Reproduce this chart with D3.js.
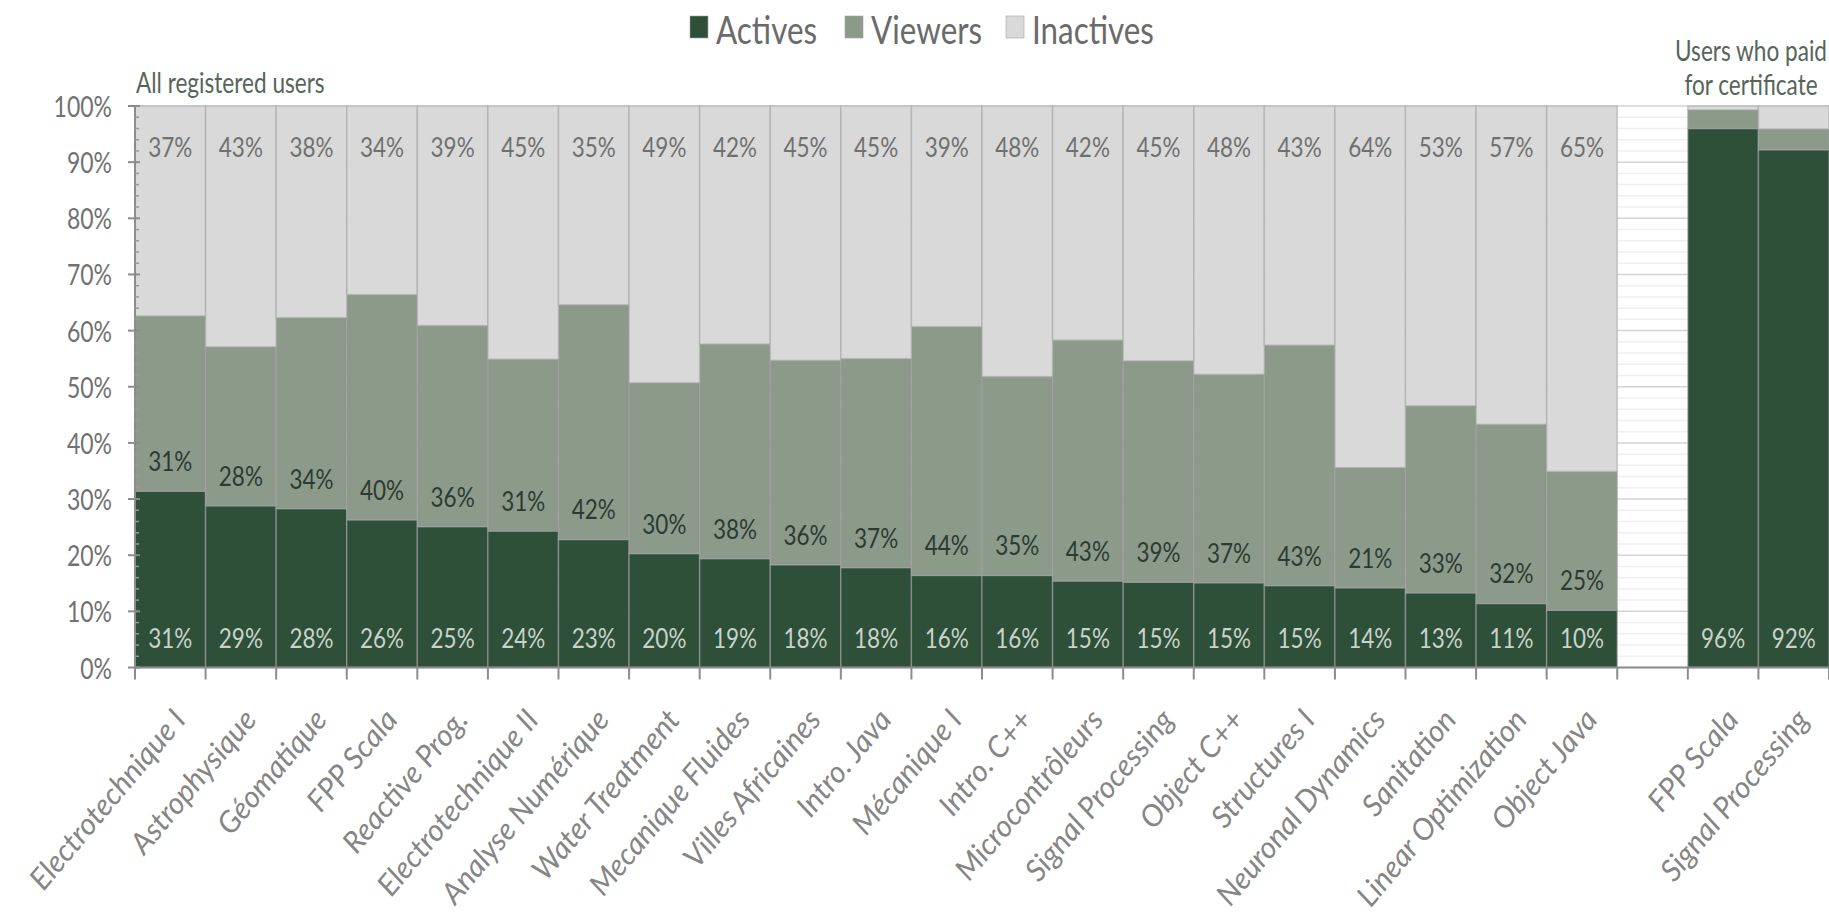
<!DOCTYPE html>
<html>
<head>
<meta charset="utf-8">
<script src="https://cdn.jsdelivr.net/npm/d3@7/dist/d3.min.js"></script>
<style>
  html, body { margin: 0; padding: 0; background: #ffffff; }
  svg { display: block; }
</style>
</head>
<body>
<svg id="chart" width="1829" height="924"></svg>
<script>
// Course audience breakdown (share of registered users)
const categories = [
  "Electrotechnique I", "Astrophysique", "Géomatique", "FPP Scala", "Reactive Prog.",
  "Electrotechnique II", "Analyse Numérique", "Water Treatment", "Mecanique Fluides",
  "Villes Africaines", "Intro. Java", "Mécanique I", "Intro. C++", "Microcontrôleurs",
  "Signal Processing", "Object C++", "Structures I", "Neuronal Dynamics", "Sanitation",
  "Linear Optimization", "Object Java"
];
const actives   = [31.4, 28.8, 28.3, 26.3, 25.1, 24.3, 22.8, 20.3, 19.4, 18.3, 17.8,
                   16.4, 16.4, 15.4, 15.2, 15.1, 14.6, 14.2, 13.3, 11.4, 10.2];
const viewers   = [31.2, 28.3, 34.0, 40.1, 35.8, 30.6, 41.8, 30.4, 38.2, 36.4, 37.2,
                   44.3, 35.4, 42.9, 39.4, 37.1, 42.8, 21.4, 33.3, 31.9, 24.7];
const inactives = [37.4, 42.9, 37.7, 33.6, 39.1, 45.1, 35.4, 49.3, 42.4, 45.3, 45.0,
                   39.3, 48.2, 41.7, 45.4, 47.8, 42.6, 64.4, 53.4, 56.7, 65.1];

// Users who paid for a certificate
const paidCategories = ["FPP Scala", "Signal Processing"];
const paidActives   = [96.0, 92.2];
const paidViewers   = [3.3, 3.7];
const paidInactives = [0.7, 4.1];

const seriesNames = ["Actives", "Viewers", "Inactives"];
const yTicks = [0, 10, 20, 30, 40, 50, 60, 70, 80, 90, 100];
const yMinorTicks = d3.range(0, 101, 2);

const FONT = "Lato, 'Open Sans', sans-serif";
const TALL = 1.24; // horizontal texts use slightly tall glyphs
const colors = { Actives: "#2e5039", Viewers: "#8b9a89", Inactives: "#d9d9d9" };

const svg = d3.select("#chart");
const margin = { left: 135, right: 0, top: 106, bottom: 256.5 };
const W = 1829, H = 924;

// place a text element at (x, y) with tall glyphs
function placeText(sel, fx, fy) {
  return sel.attr("transform", (d, i) =>
    `translate(${fx(d, i)},${fy(d, i)}) scale(1,${TALL})`);
}

// Slots: main courses, one empty spacer, then the paid cohorts
const rows = categories.map((c, i) => ({
  key: "m" + i, label: c,
  Actives: actives[i], Viewers: viewers[i], Inactives: inactives[i]
}));
const spacerKey = "gap";
const paidRows = paidCategories.map((c, i) => ({
  key: "p" + i, label: c,
  Actives: paidActives[i], Viewers: paidViewers[i], Inactives: paidInactives[i]
}));
const allRows = rows.concat(paidRows);
const slotKeys = rows.map(d => d.key).concat([spacerKey], paidRows.map(d => d.key));

const x = d3.scaleBand().domain(slotKeys)
  .range([margin.left, W - margin.right]).paddingInner(0).paddingOuter(0);
const y = d3.scaleLinear().domain([0, 100]).range([H - margin.bottom, margin.top]);
const cx = d => x(d.key) + x.bandwidth() / 2;

// Gridlines
const grid = svg.append("g");
grid.selectAll("line.minor").data(yMinorTicks.filter(t => t % 10 !== 0)).join("line")
  .attr("x1", margin.left).attr("x2", W - margin.right)
  .attr("y1", d => y(d)).attr("y2", d => y(d))
  .attr("stroke", "#efefef").attr("stroke-width", 1.5);
grid.selectAll("line.major").data(yTicks).join("line")
  .attr("x1", margin.left).attr("x2", W - margin.right)
  .attr("y1", d => y(d)).attr("y2", d => y(d))
  .attr("stroke", "#d4d4d4").attr("stroke-width", 1.5);

// Stacked bars
const layers = d3.stack().keys(seriesNames)(allRows);
const barG = svg.append("g");
layers.forEach(layer => {
  barG.append("g").selectAll("rect").data(layer).join("rect")
    .attr("x", d => x(d.data.key))
    .attr("width", x.bandwidth())
    .attr("y", d => y(d[1]))
    .attr("height", d => y(d[0]) - y(d[1]))
    .attr("fill", colors[layer.key])
    .attr("stroke", "#a3a3a3")
    .attr("stroke-opacity", 0.55)
    .attr("stroke-width", 1.5);
});

// Value labels
const fmt = v => Math.round(v) + "%";
const lab = svg.append("g").attr("font-family", FONT).attr("font-size", 22.5)
  .attr("text-anchor", "middle").attr("dominant-baseline", "central");
placeText(lab.selectAll("text.a").data(allRows).join("text"), cx, () => y(0) - 31)
  .attr("fill", "#c9d3c9").text(d => fmt(d.Actives));
placeText(lab.selectAll("text.v").data(rows).join("text"), cx, d => y(d.Actives) - 31)
  .attr("fill", "#2c3b31").text(d => fmt(d.Viewers));
placeText(lab.selectAll("text.i").data(rows).join("text"), cx, () => y(100) + 40)
  .attr("fill", "#707070").text(d => fmt(d.Inactives));

// Y axis with major and minor ticks
const yAxis = svg.append("g").attr("transform", `translate(${margin.left},0)`);
yAxis.append("line").attr("y1", y(0)).attr("y2", y(100))
  .attr("stroke", "#8c8c8c").attr("stroke-width", 2);
yAxis.selectAll("line.mt").data(yMinorTicks.filter(t => t % 10 !== 0)).join("line")
  .attr("x1", 0).attr("x2", 4).attr("y1", d => y(d)).attr("y2", d => y(d))
  .attr("stroke", "#9a9a9a").attr("stroke-width", 1.5);
yAxis.selectAll("line.Mt").data(yTicks).join("line")
  .attr("x1", -7).attr("x2", 5).attr("y1", d => y(d)).attr("y2", d => y(d))
  .attr("stroke", "#8c8c8c").attr("stroke-width", 2);
placeText(yAxis.selectAll("text").data(yTicks).join("text"), () => -23, d => y(d))
  .attr("text-anchor", "end").attr("dominant-baseline", "central")
  .attr("font-family", FONT).attr("font-size", 23).attr("fill", "#717171")
  .text(d => d + "%");

// X axis: baseline and ticks at slot boundaries
const xAxis = svg.append("g");
const boundaries = slotKeys.map(k => x(k)).concat([x(slotKeys[slotKeys.length - 1]) + x.bandwidth()]);
xAxis.append("line").attr("x1", margin.left).attr("x2", W - margin.right)
  .attr("y1", y(0)).attr("y2", y(0)).attr("stroke", "#8c8c8c").attr("stroke-width", 2);
xAxis.selectAll("line.t").data(boundaries).join("line")
  .attr("x1", d => d).attr("x2", d => d)
  .attr("y1", y(0)).attr("y2", y(0) + 12)
  .attr("stroke", "#8c8c8c").attr("stroke-width", 2);

// Category labels, slanted
xAxis.selectAll("text").data(allRows).join("text")
  .attr("transform", d => `translate(${cx(d) + 17},${y(0) + 53}) rotate(-50)`)
  .attr("text-anchor", "end")
  .attr("font-family", FONT).attr("font-size", 30).attr("font-style", "italic")
  .attr("fill", "#858585")
  .text(d => d.label);

// Panel titles
const titleG = svg.append("g").attr("font-family", FONT).attr("font-size", 22.6)
  .attr("fill", "#55655a").attr("dominant-baseline", "central");
placeText(titleG.append("text").datum(0), () => 136, () => 82).text("All registered users");
placeText(titleG.append("text").datum(0), () => 1751, () => 50)
  .attr("text-anchor", "middle").text("Users who paid");
placeText(titleG.append("text").datum(0), () => 1751, () => 84)
  .attr("text-anchor", "middle").text("for certificate");

// Legend
const legendX = [690, 845, 1006];
const legend = svg.append("g");
seriesNames.forEach((name, i) => {
  const g = legend.append("g").attr("transform", `translate(${legendX[i]},0)`);
  g.append("rect").attr("x", 0).attr("y", 16).attr("width", 18).attr("height", 22)
    .attr("fill", colors[name]).attr("stroke", "#a3a3a3").attr("stroke-opacity", 0.6);
  placeText(g.append("text").datum(0), () => 26, () => 44)
    .attr("font-family", FONT).attr("font-size", 31.4).attr("fill", "#6a6a6a")
    .text(name);
});
</script>
</body>
</html>
